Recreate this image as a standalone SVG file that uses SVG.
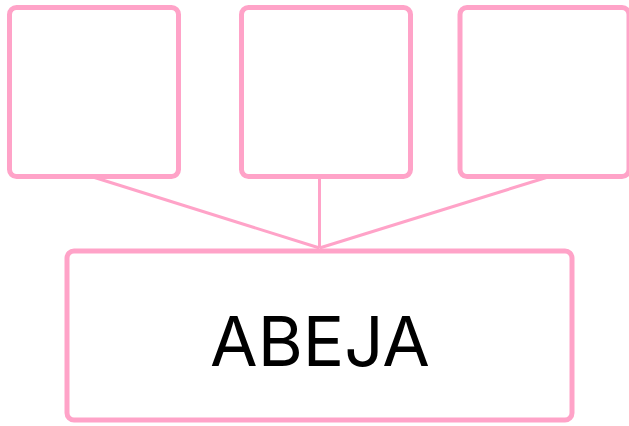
<svg xmlns="http://www.w3.org/2000/svg" width="629" height="426" viewBox="0 0 629 426">
<style>
.node{fill:#ffffff;stroke:#ffa3c8;stroke-width:5}
.edge{stroke:#ffa3c8;stroke-width:3;fill:none}
.label{font-family:Inter,"Liberation Sans",sans-serif;font-size:69px;fill:#000000;text-anchor:middle}
</style>
<rect width="629" height="426" fill="#ffffff"/>
<g id="connectors">
<line class="edge" x1="93" y1="177" x2="319.5" y2="248"/>
<line class="edge" x1="319.5" y1="177" x2="319.5" y2="248"/>
<line class="edge" x1="548" y1="177" x2="319.5" y2="248"/>
</g>
<g id="node1"><rect class="node" x="9.5" y="7.5" width="169" height="169" rx="7"/></g>
<g id="node2"><rect class="node" x="241.5" y="7.5" width="169" height="169" rx="7"/></g>
<g id="node3"><rect class="node" x="460" y="7.5" width="169" height="169" rx="7"/></g>
<g id="node4"><rect class="node" x="67" y="251" width="505" height="169" rx="7"/>
<text class="label" x="320" y="366">ABEJA</text></g>
</svg>
